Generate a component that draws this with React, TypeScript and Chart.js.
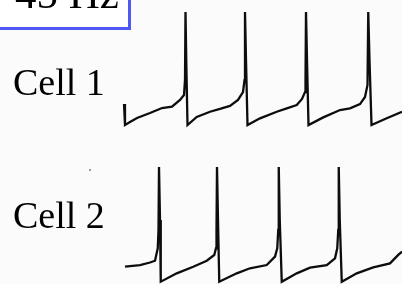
import React, { useEffect, useRef } from "react";
import { Chart, registerables } from "chart.js";

Chart.register(...registerables);

// Time (ms) and membrane potential (mV) samples
const cell1Time = [
  0, 0.4, 2.4, 5.2, 10.4, 15.2, 19.2, 22.4, 24.0, 24.4, 24.6, 24.9, 25.4,
  29.1, 34.4, 38.4, 42.4, 45.6, 47.6, 48.2, 48.4, 48.8, 49.4,
  54.4, 61.1, 65.1, 69.1, 71.2, 72.4, 72.6, 72.8, 73.2, 73.8,
  79.7, 86.4, 90.4, 94.4, 96.4, 97.4, 97.7, 98.2, 99.0,
  105.1, 111.2,
];
const cell1Voltage = [
  -46.7, -64.2, -61.7, -58.3, -54.2, -50.0, -48.8, -43.3, -39.2, -26.7, 30, -10, -64.2,
  -57.5, -53.1, -50.8, -48.3, -43.3, -36.7, -26.7, 30, -10, -64.2,
  -58.6, -53.1, -50.3, -47.5, -42.5, -36.7, -26.7, 30, -10, -64.2,
  -57.8, -51.7, -50.3, -46.7, -40.8, -30.8, 30, -10, -64.2,
  -58.6, -53.1,
];
const cell2Time = [
  0.4, 6.4, 10.4, 12.4, 13.5, 13.8, 14.0, 14.4, 14.7,
  21.1, 27.7, 33.1, 36.1, 36.8, 37.0, 37.2, 37.6, 38.1,
  45.1, 50.4, 57.1, 60.4, 61.3, 61.7, 61.9, 62.3, 63.1,
  69.1, 74.4, 81.1, 84.4, 85.3, 85.7, 85.9, 86.3, 87.1,
  93.1, 99.7, 106.4, 109.7, 111.2,
];
const cell2Voltage = [
  -53.1, -51.7, -49.6, -48.1, -37.7, -22.5, 30, -14.2, -65.6,
  -58.6, -53.1, -48.1, -43.3, -37.7, -22.5, 30, -14.2, -65.6,
  -58.6, -54.4, -51.7, -44.7, -37.7, -22.5, 30, -14.2, -65.6,
  -58.6, -53.9, -51.7, -46.1, -37.7, -22.5, 30, -14.2, -65.6,
  -58.6, -53.6, -50.3, -43.3, -40.6,
];
const cellLabels = ["Cell 1", "Cell 2"];
const frequencyLabel = "45 Hz";

export default function App() {
  const canvasRef = useRef<HTMLCanvasElement | null>(null);

  useEffect(() => {
    document.body.style.margin = "0";
    document.body.style.background = "#fbfbfb";
    const canvas = canvasRef.current;
    if (!canvas) return;
    const toPoints = (t: number[], v: number[]) => t.map((x, i) => ({ x, y: v[i] }));
    const chart = new Chart(canvas, {
      type: "line",
      data: {
        datasets: [
          {
            label: cellLabels[0],
            data: toPoints(cell1Time, cell1Voltage),
            yAxisID: "y1",
            borderColor: "#0d0d0d",
            borderWidth: 2.3,
            pointRadius: 0,
            tension: 0,
          },
          {
            label: cellLabels[1],
            data: toPoints(cell2Time, cell2Voltage),
            yAxisID: "y2",
            borderColor: "#0d0d0d",
            borderWidth: 2.3,
            pointRadius: 0,
            tension: 0,
          },
        ],
      },
      options: {
        animation: false,
        responsive: false,
        maintainAspectRatio: false,
        layout: { padding: 0 },
        plugins: { legend: { display: false }, tooltip: { enabled: false }, title: { display: false } },
        scales: {
          x: { type: "linear", display: false, min: -49.6, max: 111.2 },
          y1: { type: "linear", display: false, min: -196.67, max: 40 },
          y2: { type: "linear", display: false, min: -67.5, max: 169.17 },
        },
      },
    });
    return () => chart.destroy();
  }, []);

  const labelStyle: React.CSSProperties = {
    position: "absolute",
    left: 13,
    fontFamily: '"Liberation Serif", serif',
    fontSize: 38,
    lineHeight: "38px",
    color: "#000",
    whiteSpace: "nowrap",
  };

  return (
    <div style={{ position: "relative", width: 402, height: 284, overflow: "hidden", background: "#fbfbfb" }}>
      <canvas ref={canvasRef} width={402} height={284} style={{ position: "absolute", left: 0, top: 0 }} />
      <div
        style={{
          position: "absolute",
          left: -10,
          top: -40,
          width: 131 + 10 - 6,
          height: 27 + 40 - 3,
          border: "3px solid #4f58f2",
          background: "#ffffff",
          boxSizing: "content-box",
        }}
      >
        <div
          style={{
            position: "absolute",
            left: 22,
            top: 9,
            fontFamily: '"Liberation Serif", serif',
            fontSize: 43,
            lineHeight: "43px",
            color: "#000",
            whiteSpace: "nowrap",
          }}
        >
          {frequencyLabel}
        </div>
      </div>
      <div style={{ ...labelStyle, top: 63 }}>{cellLabels[0]}</div>
      <div style={{ ...labelStyle, top: 196 }}>{cellLabels[1]}</div>
      <div style={{ position: "absolute", left: 89, top: 169, width: 2, height: 2, background: "#999" }} />
    </div>
  );
}
